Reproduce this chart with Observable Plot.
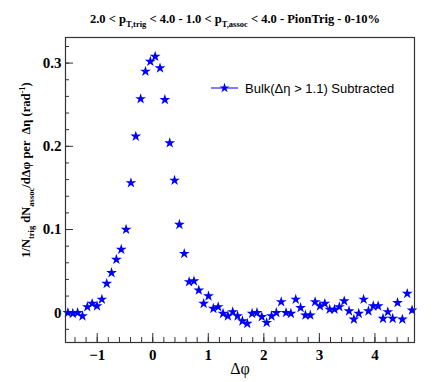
<!DOCTYPE html>
<html>
<head>
<meta charset="utf-8">
<script src="https://cdn.jsdelivr.net/npm/d3@7"></script>
<script src="https://cdn.jsdelivr.net/npm/@observablehq/plot@0.6"></script>
<style>
  html, body { margin: 0; padding: 0; background: #fff; }
  #chart { width: 436px; height: 382px; }
</style>
</head>
<body>
<div id="chart"></div>
<script>
// ---- data ----
const nBins = 72;
const yield_ = [
  0.000, -0.001, 0.000, -0.004, 0.007, 0.011, 0.008, 0.016,
  0.035, 0.048, 0.064, 0.076, 0.100, 0.156, 0.212, 0.257,
  0.290, 0.302, 0.308, 0.294, 0.256, 0.204, 0.159, 0.106,
  0.071, 0.037, 0.038, 0.027, 0.011, 0.020, 0.005, 0.007,
  -0.001, -0.004, 0.001, -0.004, -0.010, -0.013, -0.001, 0.000,
  -0.005, -0.012, -0.004, 0.000, 0.013, 0.000, -0.001, 0.016,
  0.006, -0.003, -0.003, 0.013, 0.008, 0.011, 0.004, 0.004,
  0.007, 0.014, 0.002, -0.008, -0.001, 0.016, 0.002, 0.008,
  0.008, -0.007, 0.001, -0.007, 0.012, -0.008, 0.023, 0.003
];
const xMajorTicks = [-1, 0, 1, 2, 3, 4];
const xMinorTicks = d3.range(-7, 24).map(i => +(i * 0.2).toFixed(2));
const yMajorTicks = [0, 0.1, 0.2, 0.3];
const yTickLabels = ["0", "0.1", "0.2", "0.3"];
const yMinorTicks = d3.range(-1, 17).map(i => +(i * 0.02).toFixed(2));
const xDomain = [-Math.PI / 2, 3 * Math.PI / 2];
const yDomain = [-0.0358, 0.3308];
const legendLabel = "Bulk(Δη > 1.1) Subtracted";

// bin centers in Δφ
const binW = 2 * Math.PI / nBins;
const data = yield_.map((v, i) => ({ phi: xDomain[0] + (i + 0.5) * binW, y: v }));

// ---- layout ----
const W = 436, H = 382;
const mL = 65, mR = 22, mT = 37, mB = 40;
const fw = W - mL - mR, fh = H - mT - mB;
const serif = "'Liberation Serif', 'Times New Roman', serif";
const sans = "'Liberation Sans', Arial, sans-serif";
const axisColor = "#333";
const blue = "#0000ff";

const plot = Plot.plot({
  width: W, height: H,
  marginLeft: mL, marginRight: mR, marginTop: mT, marginBottom: mB,
  style: { fontFamily: serif, background: "#fff", overflow: "visible" },
  x: { domain: xDomain, label: null },
  y: { domain: yDomain, label: null },
  marks: [
    // inward ticks, y axis
    Plot.tickY(yMinorTicks, { y: d => d, insetRight: fw - 4, stroke: axisColor }),
    Plot.tickY(yMajorTicks, { y: d => d, insetRight: fw - 8, stroke: axisColor }),
    // inward ticks, x axis
    Plot.tickX(xMinorTicks, { x: d => d, insetTop: fh - 5, stroke: axisColor }),
    Plot.tickX(xMajorTicks, { x: d => d, insetTop: fh - 9, stroke: axisColor }),
    Plot.axisY(yMajorTicks, {
      tickSize: 0, tickPadding: 4, fontSize: 15, fontWeight: "bold",
      tickFormat: d => yTickLabels[yMajorTicks.indexOf(d)], fill: "#000"
    }),
    Plot.axisX(xMajorTicks, {
      tickSize: 0, tickPadding: 7, fontSize: 15, fontWeight: "bold", fill: "#000"
    }),
    Plot.dot(data, {
      x: "phi", y: "y", symbol: "star", r: 3.4, fill: blue, stroke: "none"
    }),
    Plot.frame({ stroke: axisColor, strokeWidth: 1.2 })
  ]
});

document.getElementById("chart").appendChild(plot);
const svg = d3.select(plot);

function addRich(el, parts, subSize, shift) {
  let cur = 0;
  parts.forEach(p => {
    const t = el.append("tspan").text(p.t);
    const target = p.sub ? shift : p.sup ? -shift * 1.4 : 0;
    if (target !== cur) { t.attr("dy", target - cur); cur = target; }
    if (p.sub || p.sup) t.attr("font-size", subSize);
  });
}

// ---- title ----
const title = svg.append("text")
  .attr("x", 235).attr("y", 23)
  .attr("text-anchor", "middle")
  .attr("font-family", serif).attr("font-weight", "bold").attr("font-size", 12.5)
  .attr("fill", "#000");
addRich(title, [
  { t: "2.0 < p" }, { t: "T,trig", sub: true }, { t: " < 4.0 - 1.0 < p" },
  { t: "T,assoc", sub: true }, { t: " < 4.0 - PionTrig - 0-10%" }
], 8.5, 4);

// ---- y-axis title ----
const ylab = svg.append("text")
  .attr("transform", "rotate(-90)")
  .attr("x", -170).attr("y", 30)
  .attr("text-anchor", "middle")
  .attr("font-family", serif).attr("font-weight", "bold").attr("font-size", 12.5)
  .attr("fill", "#000");
addRich(ylab, [
  { t: "1/N" }, { t: "trig", sub: true }, { t: " dN" }, { t: "assoc", sub: true },
  { t: "/dΔφ per  Δη (rad" }, { t: "-1", sup: true }, { t: ")" }
], 8.5, 3.5);

// ---- x-axis title ----
svg.append("text")
  .attr("x", 240).attr("y", 374)
  .attr("text-anchor", "middle")
  .attr("font-family", serif).attr("font-size", 16)
  .attr("fill", "#000")
  .text("Δφ");

// ---- legend ----
const lg = svg.append("g");
lg.append("line").attr("x1", 211).attr("x2", 238).attr("y1", 88).attr("y2", 88)
  .attr("stroke", blue).attr("stroke-width", 1);
lg.append("path").attr("transform", "translate(224.5,88)")
  .attr("d", d3.symbol(d3.symbolStar, 30)()).attr("fill", blue);
lg.append("text").attr("x", 245).attr("y", 93)
  .attr("text-anchor", "start")
  .attr("font-family", sans).attr("font-size", 13).attr("fill", "#000")
  .text(legendLabel);
</script>
</body>
</html>
